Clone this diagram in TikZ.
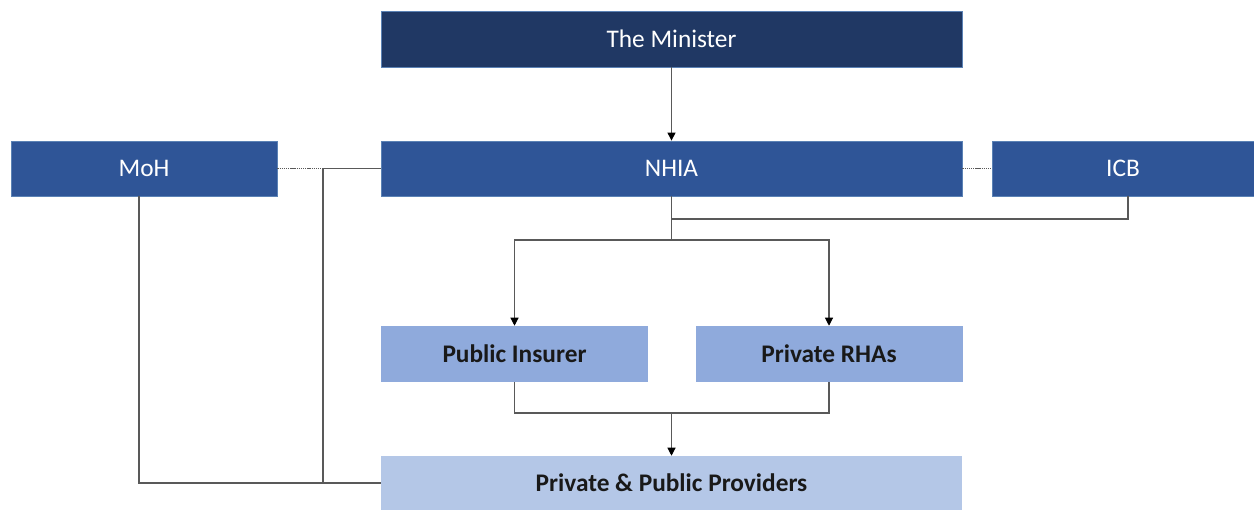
\documentclass[tikz,border=0pt]{standalone}
\usepackage{fontspec}
\setmainfont{Carlito}
\usepackage{tikz}
\usetikzlibrary{positioning,arrows.meta}
\definecolor{MinisterNavy}{HTML}{203864}
\definecolor{BodyBlue}{HTML}{2F5597}
\definecolor{EdgeBlue}{HTML}{5B82B5}
\definecolor{PayerBlue}{HTML}{8FAADC}
\definecolor{ProvBlue}{HTML}{B4C7E7}
\definecolor{LineGray}{HTML}{595959}
\tikzset{
  minnode/.style={draw=EdgeBlue,fill=MinisterNavy,line width=0.6pt,
    minimum width=435.75pt,minimum height=42pt,inner sep=0pt,
    font=\fontsize{19}{22}\selectfont\color{white},align=center},
  orgnode/.style={draw=EdgeBlue,fill=BodyBlue,line width=0.6pt,
    minimum height=41.25pt,inner sep=0pt,
    font=\fontsize{19}{22}\selectfont\color{white},align=center},
  payernode/.style={fill=PayerBlue,minimum width=200.25pt,minimum height=42pt,
    inner sep=0pt,font=\fontsize{19}{22}\selectfont\bfseries\color{black!90},align=center},
  provnode/.style={fill=ProvBlue,minimum width=435.75pt,minimum height=40.5pt,
    inner sep=0pt,font=\fontsize{19}{22}\selectfont\bfseries\color{black!90},align=center},
  link/.style={line width=0.8pt,draw=LineGray},
  linkArrow/.style={link,-{Triangle[width=6pt,length=6pt,color=black]}},
  linkDot/.style={line width=0.8pt,draw=LineGray,dash pattern=on 1pt off 0.6pt},
}
\begin{document}
\begin{tikzpicture}[x=0.75pt,y=-0.75pt]
  \useasboundingbox (0,0) rectangle (1254,510);
  \node[minnode] (minister) at (671.5,39) {The Minister};
  \node[orgnode,minimum width=435.75pt] (nhia) at (671.5,168.5) {NHIA};
  \node[orgnode,minimum width=199.5pt] (moh) at (144,168.5) {MoH};
  \node[orgnode,minimum width=196.5pt] (icb) at (1123,168.5) {ICB};
  \node[payernode] (pubins) at (514.5,354) {Public Insurer};
  \node[payernode] (rhas) at (829,354) {Private RHAs};
  \node[provnode] (prov) at (671.5,483) {Private \& Public Providers};
  % junction points
  \coordinate (mohj) at (323,168.5);
  \coordinate (icbj) at (671.5,219);
  \coordinate (split) at (671.5,240);
  \coordinate (merge) at (671.5,413);
  % connectors
  \draw[linkArrow] (minister.south) -- (nhia.north);
  \draw[linkDot] (moh.east) -- (mohj);
  \draw[link] (mohj) -- (nhia.west);
  \draw[link] (mohj) -- (mohj |- prov.west);
  \draw[link] (moh.south -| 139,0) |- (prov.west);
  \draw[linkDot] (nhia.east) -- (icb.west);
  \draw[link] (icb.south -| 1128,0) |- (icbj);
  \draw[link] (nhia.south) -- (split);
  \draw[linkArrow] (split) -| (pubins.north);
  \draw[linkArrow] (split) -| (rhas.north);
  \draw[link] (pubins.south) |- (merge) -| (rhas.south);
  \draw[linkArrow] (merge) -- (prov.north);
\end{tikzpicture}
\end{document}
